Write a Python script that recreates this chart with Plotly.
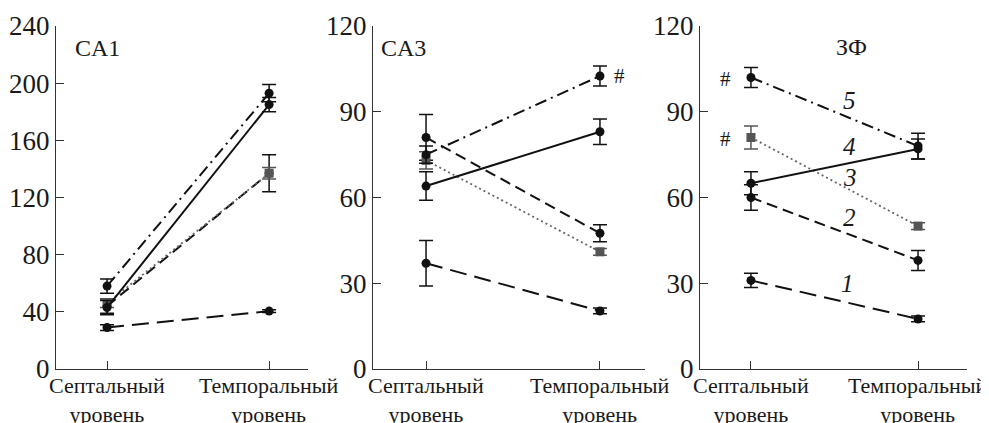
import plotly.graph_objects as go

# page is shown with the browser's default 8px body margin
PAGE_W, PAGE_H = 989, 423
OFF = 8
W, H = PAGE_W - OFF, PAGE_H - OFF

categories = ["Септальный<br>уровень", "Темпоральный<br>уровень"]
series_names = ["1", "2", "3", "4", "5"]
panel_titles = ["CA1", "CA3", "ЗФ"]

# values per panel: [septal, temporal] for series 1..5
ca1_sep = [29, 44, 46, 43, 58]
ca1_tem = [40.5, 137, 137, 185, 193]
ca1_sep_err = [2, 5, 3, 5, 5]
ca1_tem_err = [1, 13, 4, 5, 6]

ca3_sep = [37, 81, 73, 64, 75]
ca3_tem = [20.3, 47.5, 41, 83, 102.5]
ca3_sep_err = [8, 8, 3, 5, 3]
ca3_tem_err = [1, 3, 1.2, 4.5, 3.5]

zf_sep = [31, 60, 81, 65, 102]
zf_tem = [17.5, 38, 50, 77, 78]
zf_sep_err = [2.5, 4.5, 4, 4, 3.5]
zf_tem_err = [1, 3.5, 1.2, 3.5, 4.5]

y_max = [240, 120, 120]
y_ticks = [[0, 40, 80, 120, 160, 200, 240], [0, 30, 60, 90, 120], [0, 30, 60, 90, 120]]

# italic series labels in the 3rd panel (data coords)
label_x = [0.58, 0.59, 0.59, 0.59, 0.59]
label_y = [30, 53, 67, 78, 94]

panels = [
    (ca1_sep, ca1_tem, ca1_sep_err, ca1_tem_err),
    (ca3_sep, ca3_tem, ca3_sep_err, ca3_tem_err),
    (zf_sep, zf_tem, zf_sep_err, zf_tem_err),
]

# styles
dashes = ["17px,8px", "11px,6px", "2px,3px", "solid", "12px,5px,2px,5px"]
line_colors = ["#111", "#111", "#666", "#111", "#111"]
marker_colors = ["#111", "#111", "#555", "#111", "#111"]
symbols = ["circle", "circle", "square", "circle", "circle"]
widths = [2, 2, 1.8, 2, 2]

# layout geometry (window pixels)
x_dom_px = [(56, 308), (373, 645), (700, 967)]
x_ranges = [(-0.315, 1.24), (-0.305, 1.259), (-0.305, 1.293)]
y_bottom_px, y_top_px = 369, 26


def fx(px):
    return (px - OFF) / W


def fy(py):
    return 1 - (py - OFF) / H


fig = go.Figure()
FONT = "Liberation Serif"
TXT = "#1a1a1a"

for p, (sep, tem, se, te) in enumerate(panels):
    xa = "x" if p == 0 else f"x{p+1}"
    ya = "y" if p == 0 else f"y{p+1}"
    for i in range(5):
        fig.add_trace(go.Scatter(
            x=[0, 1], y=[sep[i], tem[i]],
            xaxis=xa, yaxis=ya,
            mode="lines+markers",
            line=dict(color=line_colors[i], width=widths[i], dash=dashes[i]),
            marker=dict(symbol=symbols[i], size=9, color=marker_colors[i]),
            error_y=dict(type="data", array=[se[i], te[i]], visible=True,
                         color=marker_colors[i], thickness=1.5, width=7),
            showlegend=False, name=series_names[i],
        ))

layout = dict(
    width=W, height=H,
    margin=dict(l=0, r=0, t=0, b=0),
    paper_bgcolor="white", plot_bgcolor="white",
    font=dict(family=FONT, color=TXT),
    showlegend=False,
)

for p in range(3):
    xk = "xaxis" if p == 0 else f"xaxis{p+1}"
    yk = "yaxis" if p == 0 else f"yaxis{p+1}"
    ya_id = "y" if p == 0 else f"y{p+1}"
    xa_id = "x" if p == 0 else f"x{p+1}"
    d0, d1 = x_dom_px[p]
    layout[xk] = dict(
        domain=[fx(d0), fx(d1)], range=list(x_ranges[p]),
        anchor=ya_id, tickmode="array", tickvals=[0, 1], showticklabels=False,
        ticks="inside", ticklen=8, tickwidth=1.3, tickcolor="#333",
        showline=True, linecolor="#333", linewidth=1.3,
        showgrid=False, zeroline=False, automargin=False,
        fixedrange=True,
    )
    layout[yk] = dict(
        domain=[fy(y_bottom_px), fy(y_top_px)], range=[0, y_max[p]],
        anchor=xa_id, tickmode="array", tickvals=y_ticks[p],
        ticks="inside", ticklen=8, tickwidth=1.3, tickcolor="#333",
        showline=True, linecolor="#333", linewidth=1.3,
        showgrid=False, zeroline=False, automargin=False,
        ticklabelstandoff=0,
        tickfont=dict(size=27, family=FONT, color=TXT),
        fixedrange=True,
    )

fig.update_layout(**layout)

annotations = []
# category labels under each x axis
for p in range(3):
    xr = "x" if p == 0 else f"x{p+1}"
    for cx, cat in enumerate(categories):
        annotations.append(dict(text=cat, xref=xr, yref="paper", x=cx, y=fy(372),
                                xanchor="center", yanchor="top", showarrow=False,
                                borderpad=0,
                                font=dict(size=22, family=FONT, color=TXT)))
# panel titles
title_pos = [("x", "y", -0.21, 0.935 * 240, "left"),
             ("x2", "y2", -0.27, 0.935 * 120, "left"),
             ("x3", "y3", 0.6, 0.94 * 120, "center")]
for t, (xr, yr, xx, yy, al) in zip(panel_titles, title_pos):
    annotations.append(dict(text=t, xref=xr, yref=yr, x=xx, y=yy, showarrow=False,
                            xanchor=al, yanchor="middle",
                            font=dict(size=24, family=FONT, color=TXT)))
# significance marks
annotations.append(dict(text="#", xref="x2", yref="y2", x=1, y=ca3_tem[4], xshift=20,
                        showarrow=False, font=dict(size=21, family=FONT, color=TXT)))
for v in [zf_sep[4], zf_sep[2]]:
    annotations.append(dict(text="#", xref="x3", yref="y3", x=0, y=v - 0.5, xshift=-25,
                            showarrow=False, font=dict(size=21, family=FONT, color=TXT)))
# series labels
for n, lx, ly in zip(series_names, label_x, label_y):
    annotations.append(dict(text=f"<i>{n}</i>", xref="x3", yref="y3", x=lx, y=ly,
                            showarrow=False, font=dict(size=25, family=FONT, color=TXT)))

fig.update_layout(annotations=annotations)
fig.write_html("out.html")
